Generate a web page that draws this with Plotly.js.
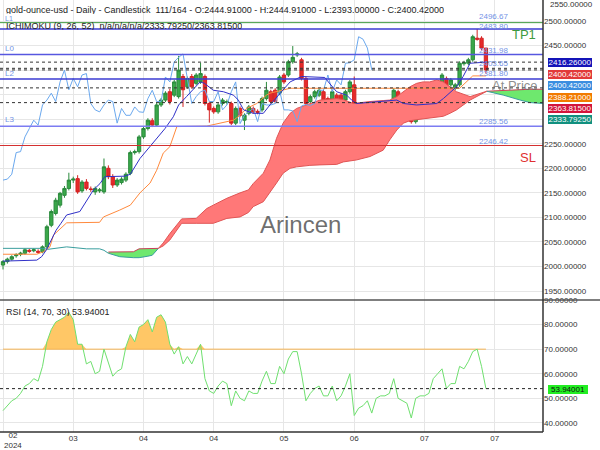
<!DOCTYPE html>
<html><head><meta charset="utf-8">
<script src="https://cdn.plot.ly/plotly-3.0.1.min.js"></script>
<style>html,body{margin:0;padding:0;background:#fff}#chart{width:600px;height:450px}</style>
</head><body><div id="chart"></div><script>
// ---- data ----
const open  = [2003,2010,2015,2022,2025,2027,2033,2032,2031,2030,2040,2084,2108,2125,2145,2159,2176,2179,2154,2172,2158,2152,2154,2152,2200,2183,2166,2171,2176,2190,2232,2234,2264,2281,2297,2288,2329,2339,2356,2349,2346,2387,2366,2387,2373,2376,2387,2332,2322,2315,2332,2334,2332,2292,2322,2298,2312,2322,2316,2319,2342,2356,2359,2353,2390,2390,2417,2431,2421,2383,2336,2346,2349,2356,2342,2325,2349,2349,2339,2356,2370,2295,2305,2308,2319,2302,2322,2319,2325,2329,2356,2329,2327,2325,2295,2328,2330,2330,2329,2353,2356,2383,2370,2363,2370,2413,2414,2421,2465,2465,2444.91];
const high  = [2013,2018,2023,2027,2030,2037,2036,2037,2035,2043,2085,2116,2140,2152,2164,2191,2183,2186,2176,2178,2163,2163,2160,2220,2206,2188,2180,2182,2192,2236,2238,2268,2285,2302,2302,2333,2343,2357,2362,2380,2429,2392,2387,2392,2394,2415,2391,2336,2326,2333,2343,2340,2336,2326,2326,2312,2329,2326,2320,2346,2376,2360,2363,2390,2394,2421,2449,2437,2425,2387,2350,2360,2363,2360,2346,2360,2353,2353,2360,2380,2387,2312,2319,2326,2323,2336,2333,2333,2336,2363,2360,2333,2331,2329,2331,2333,2334,2335,2363,2363,2394,2387,2384,2374,2418,2419,2425,2472,2483.8,2469,2444.91];
const low   = [1994,2006,2012,2018,2021,2024,2028,2029,2026,2027,2036,2080,2104,2120,2140,2155,2170,2148,2150,2155,2152,2146,2150,2148,2178,2160,2162,2167,2172,2186,2228,2230,2260,2277,2284,2285,2325,2335,2330,2345,2342,2325,2362,2362,2369,2372,2328,2293,2311,2311,2328,2330,2288,2288,2304,2278,2308,2311,2310,2315,2338,2332,2332,2349,2372,2386,2413,2427,2379,2328,2332,2342,2345,2332,2332,2321,2315,2325,2335,2352,2285.56,2291,2301,2304,2291,2298,2318,2315,2321,2325,2315,2315,2313,2291,2291,2325,2326,2327,2325,2349,2352,2352,2366,2359,2366,2409,2410,2417,2460,2440,2393];
const close = [2010,2015,2020,2024,2027,2034,2031,2034,2029,2040,2081,2112,2135,2149,2159,2176,2178,2152,2172,2159,2157,2159,2156,2203,2183,2166,2176,2178,2188,2232,2234,2264,2281,2298,2288,2329,2339,2353,2336,2376,2400,2360,2383,2366,2390,2393,2332,2319,2315,2329,2339,2336,2292,2322,2308,2308,2325,2315,2314,2342,2359,2336,2336,2386,2376,2417,2426,2433,2383,2332,2346,2356,2359,2336,2336,2356,2319,2329,2356,2376,2291,2308,2315,2322,2295,2332,2329,2329,2332,2359,2319,2319,2317,2295,2327,2330,2328,2332,2359,2359,2390,2356,2380,2370,2414,2415,2421,2468,2463,2444.91,2400.42];
const rsi = [45,47,49,50,52,55,56,58,57,63,73,78,81,82,83,85,82,72,72,64,65,60,61,70,64,59,61,62,71,76,73,79,80,82,77,83,84,81,72,68,71,64,67,64,68,72,58,53,52,55,57,56,47,53,50,49,53,52,52,57,61,56,56,63,60,66,69,69,60,49,52,54,55,51,51,55,49,51,55,60,43,46,47,49,44,50,51,51,52,58,50,49,48,42,50,51,51,52,58,60,62,54,56,56,63,62,65,69,70,63,53.94001];

const tenkanX = [0,7.7,8.8,9.9,11,12.1,13.2,14.5,17.5,19,20.6,22.1,23.2,27.8,29,31.2,33.1,35,36.9,38.8,40,41.8,44.9,45.9,47.9,50.2,52.5,53.6,54.8,57,59.3,60.8,63.1,65.4,68,73.3,74.1,76,78.3,79.4,80.5,86.6,89.7,91.2,94.2,98.8,100.3,103.3,104.8,106.4,110];
const tenkan  = [2011,2013,2020,2034,2054,2074,2088,2105,2112,2132,2156,2169,2183,2184,2188,2220,2241,2261,2281,2305,2329,2346,2376,2373,2359,2356,2349,2339,2319,2312,2312,2329,2353,2376,2387,2385,2376,2356,2349,2339,2332,2336,2339,2332,2329,2332,2342,2366,2387,2414,2416.26];
const kijunX  = [0,7.7,9.2,10.7,11.5,14.5,22,22.9,26.6,29,31.2,33.5,35,36.5,38,39.6,46.4,52.5,54,55.5,57.8,60,60.8,65.4,104,106,107,110];
const kijun   = [2025,2025,2030,2040,2064,2089,2090,2101,2115,2125,2150,2170,2196,2231,2244,2285,2286,2298,2308,2322,2332,2349,2353,2363,2363,2380,2388.21,2388.21];

const spanAEarlyX = [0,9,10.2,14.5,19,22,23,24];
const spanAEarly  = [2037,2037,2035,2040,2036,2036,2033,2027];
const cloudX = [24,26.6,29.7,31,33,34,35.4,36.5,38,39,40.7,44,46.4,47.9,51,54,55.9,57,59.3,60.8,62.3,63.8,65.4,66.9,68.4,69.9,72.2,76,77.5,79.8,80.5,83.6,86.6,88.1,89.7,91.2,92.7,94.2,95.7,97.2,98.8,100.3,101.8,103.3,106.4,108.6,110.2,114,117.8,120,123];
const spanA  = [2027,2020,2018,2018,2021,2023,2037,2048,2067,2078,2097,2098,2118,2125,2139,2150,2156,2169,2190,2217,2261,2292,2312,2322,2327,2331,2339,2342,2340,2332,2333,2336,2338,2339,2346,2356,2366,2373,2376,2376,2380,2376,2366,2356,2346,2353,2357,2349,2339,2334,2332];
const spanB  = [2029.5,2029.5,2030,2036,2037,2037,2037,2042,2054,2066,2088,2088,2088,2088,2098,2101,2110,2122,2132,2150,2170,2190,2200,2203,2205,2206,2207,2208,2213,2216,2217,2224,2237,2258,2278,2292,2297,2299,2301,2302,2304,2306,2312,2319,2339,2349,2357,2359,2360,2361,2361];
const cloudSegments = [[24,35.4,'green'],[35.4,110.2,'red'],[110.2,123,'green']];

const levelsSolid = [
  {v:2496.67, c:'#3f9a3f', w:1},
  {v:2483.80, c:'#3b3bd2', w:1.5},
  {v:2431.98, c:'#5757e0', w:1.5},
  {v:2381.80, c:'#3b3bd2', w:1.5},
  {v:2285.56, c:'#7c7cf2', w:1.5},
  {v:2246.42, c:'#d43030', w:1.2}
];
const levelsDashed = [2416.26, 2403.65, 2400.42, 2363.815, 2333.7925];
const levelLabels = ['2496.67','2483.80','2431.98','2403.65','2381.80','2285.56','2246.42'];
const levelLabelY = [16.5,25.5,50,63,72.5,120.7,141];
const lineNames = ['L1','L0','L2','L3'];
const lineNameY = [18,47.5,72.5,119.5];
const lineNameSize = [7,8,8,8];

const tickBars = [0,16,32,48,64,80,96,112];
const tickLabels = ['','03','04','04','05','06','07','07'];
const priceTicks = [1950,2000,2050,2100,2150,2200,2250,2300,2350,2400,2450,2500];
const priceTickText = ['1950.00000','2000.00000','2050.00000','2100.00000','2150.00000','2200.00000','2250.00000','','','','2450.00000','2500.00000']; // 2300-2400 hidden under the value tags
const rsiTicks = [40,50,60,70,80,90];
const rsiTickText = ['40.00000','50.00000','60.00000','70.00000','80.00000','90.00000'];

const tags = [
  {t:'2416.26000', bg:'#1414b8', y:62.3},
  {t:'2400.42000', bg:'#e23a3a', y:74},
  {t:'2400.42000', bg:'#3b8ee0', y:85.7},
  {t:'2388.21000', bg:'#f27a00', y:97},
  {t:'2363.81500', bg:'#d3143c', y:108.7},
  {t:'2333.79250', bg:'#11907f', y:119.3}
];
const rsiLast = 53.94001, obLevel = 70;

// ---- build ----
const W = 543, H = 432;
const px = x => x / W, py = y => (H - y) / H;
const bars = close.map((_, i) => i);
const FONT = 'Liberation Sans, Arial, sans-serif';

const traces = [];
traces.push({x: spanAEarlyX, y: spanAEarly, mode:'lines', line:{color:'#3a9e9e', width:1}, hoverinfo:'skip'});
cloudSegments.forEach(([a, b, col]) => {
  const idx = cloudX.map((x, i) => i).filter(i => cloudX[i] >= a && cloudX[i] <= b);
  const xs = idx.map(i => cloudX[i]);
  const green = col === 'green';
  traces.push({x: xs, y: idx.map(i => spanB[i]), mode:'lines',
    line:{color: green ? '#c8405a' : '#e05555', width:1}, hoverinfo:'skip'});
  traces.push({x: xs, y: idx.map(i => spanA[i]), mode:'lines', fill:'tonexty',
    fillcolor: green ? '#6ee86e' : '#ff7878',
    line:{color: green ? '#3a9e9e' : '#e05555', width:1}, hoverinfo:'skip'});
});
traces.push({x: bars.slice(0, close.length - 26), y: close.slice(26), mode:'lines', line:{color:'#6aa8ee', width:1}});
traces.push({x: kijunX, y: kijun, mode:'lines', line:{color:'#ff8a3d', width:1}});
traces.push({x: tenkanX, y: tenkan, mode:'lines', line:{color:'#3030c8', width:1}});
traces.push({type:'candlestick', x: bars, open, high, low, close,
  increasing:{line:{color:'#2a8a3c', width:1}, fillcolor:'#3aa84a'},
  decreasing:{line:{color:'#d42222', width:1}, fillcolor:'#e52a2a'},
  whiskerwidth:0, hoverinfo:'skip'});

// RSI
traces.push({x: bars, y: bars.map(() => obLevel), xaxis:'x', yaxis:'y2', mode:'lines', line:{color:'#f5b452', width:1}});
traces.push({x: bars, y: rsi.map(v => Math.max(v, obLevel)), xaxis:'x', yaxis:'y2', mode:'lines', fill:'tonexty', fillcolor:'#ffc766', line:{width:0, color:'rgba(0,0,0,0)'}});
traces.push({x: bars, y: rsi, xaxis:'x', yaxis:'y2', mode:'lines', line:{color:'#6fe06f', width:1}});

const shapes = [];
levelsSolid.forEach(l => shapes.push({type:'line', xref:'paper', yref:'y', x0:0, x1:1, y0:l.v, y1:l.v, line:{color:l.c, width:l.w}}));
levelsDashed.forEach(v => shapes.push({type:'line', xref:'paper', yref:'y', x0:0, x1:1, y0:v, y1:v, line:{color:'#333', width:1, dash:'3px,3px'}}));
shapes.push({type:'line', xref:'paper', yref:'y2', x0:0, x1:1, y0:rsiLast, y1:rsiLast, line:{color:'#222', width:1, dash:'3px,3px'}});
shapes.push({type:'line', xref:'paper', yref:'paper', x0:0, x1:600/W, y0:py(300), y1:py(300), line:{color:'#555', width:1.5}});
shapes.push({type:'line', xref:'paper', yref:'paper', x0:1, x1:1, y0:0, y1:1, line:{color:'#333', width:1.5}});
shapes.push({type:'line', xref:'paper', yref:'paper', x0:0, x1:1, y0:0, y1:0, line:{color:'#333', width:1.5}});

const ann = [];
const A = (text, x, y, o = {}) => ann.push(Object.assign({text, xref:'paper', yref:'paper', x:px(x), y:py(y), showarrow:false, xanchor:'left', yanchor:'middle', font:{family:FONT, size:8, color:'#222'}}, o));
const hdr = {borderpad:0, borderwidth:0, height:9, font:{family:FONT, size:9, color:'#222'}};
const small = {borderpad:0, borderwidth:0, height:8, font:{family:FONT, size:8, color:'#7393e6'}};
A('gold-ounce-usd - Daily - Candlestick\u00a0\u00a0111/164 - O:2444.91000 - H:2444.91000 - L:2393.00000 - C:2400.42000', 6, 9, hdr);
lineNames.forEach((t, i) => A(t, 5, lineNameY[i], Object.assign({}, small, {font:{family:FONT, size:lineNameSize[i], color:'#7393e6'}})));
A('ICHIMOKU (9, 26, 52)\u00a0\u00a0n/a/n/a/n/a/2333.79250/2363.81500', 6, 25.5, hdr);
levelLabels.forEach((t, i) => A(t, 493.5, levelLabelY[i], Object.assign({xanchor:'center'}, small)));
A('TP1', 538, 34, {xanchor:'right', font:{family:FONT, size:13, color:'#3f9a3f'}});
A('At Price', 538, 84.5, {xanchor:'right', borderpad:0, borderwidth:0, height:10, font:{family:FONT, size:13, color:'rgba(105,105,105,0.75)'}});
A('SL', 538, 157, {xanchor:'right', font:{family:FONT, size:13, color:'#e03030'}});
A('Arincen', 300, 224, {xanchor:'center', font:{family:FONT, size:24, color:'rgba(85,85,85,0.85)'}});
A('RSI (14, 70, 30) 53.94001', 6, 311.5, hdr);
A('02<br>2024', 12.5, 441, {xanchor:'center', font:{family:FONT, size:8, color:'#333'}});
A('2550.00000', 548, 5, {font:{family:FONT, size:8, color:'#333'}});
tags.forEach(t => A(t.t, 548, t.y, {bgcolor:t.bg, borderpad:0, borderwidth:0, height:9, width:44, font:{family:FONT, size:8, color:'#fff'}}));
A(rsiLast.toFixed(5), 548, 389, {bgcolor:'#22ee22', borderpad:0, borderwidth:0, height:9, width:40, font:{family:FONT, size:8, color:'#111'}});

const layout = {
  width:600, height:450, margin:{l:0, r:57, t:0, b:18},
  paper_bgcolor:'#fff', plot_bgcolor:'#fff', showlegend:false,
  boxgap:0.25, boxgroupgap:0,
  font:{family:FONT, size:8, color:'#333'},
  xaxis:{anchor:'y2', range:[-0.683, 123.0], tickvals:tickBars, ticktext:tickLabels, showgrid:true, gridcolor:'#e6e6e6',
    zeroline:false, showline:false, ticks:'', rangeslider:{visible:false}, tickfont:{size:8, color:'#333'}},
  yaxis:{domain:[py(300), 1], side:'right', range:[1931.8, 2542.8], tickmode:'array', tickvals:priceTicks, ticktext:priceTickText,
    showgrid:true, gridcolor:'#e6e6e6', zeroline:false, ticks:'', tickfont:{size:8, color:'#333'}},
  yaxis2:{domain:[0, py(300)], side:'right', range:[36.3, 90], tickmode:'array', tickvals:rsiTicks, ticktext:rsiTickText,
    showgrid:true, gridcolor:'#e6e6e6', zeroline:false, ticks:'', tickfont:{size:8, color:'#333'}},
  shapes, annotations: ann
};
Plotly.newPlot('chart', traces, layout, {staticPlot:true, displayModeBar:false});
</script></body></html>
